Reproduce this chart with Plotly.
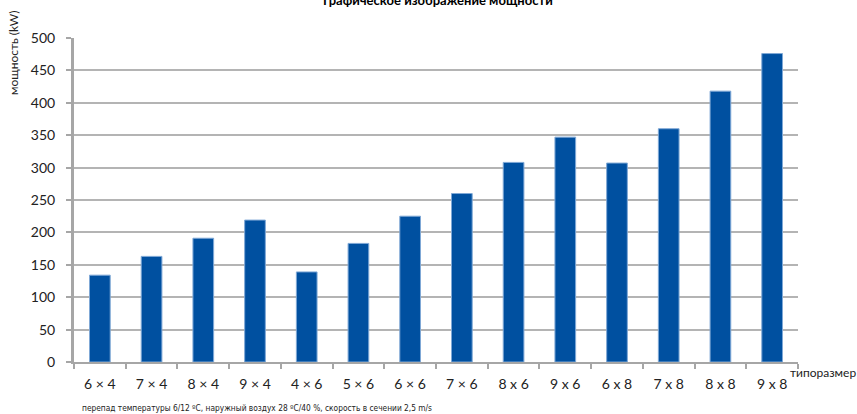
import plotly.graph_objects as go

categories = ["6 × 4", "7 × 4", "8 × 4", "9 × 4", "4 × 6", "5 × 6", "6 × 6", "7 × 6",
              "8 x 6", "9 x 6", "6 x 8", "7 x 8", "8 x 8", "9 x 8"]
power_kw = [134, 163, 191, 219, 139, 183, 225, 260, 308, 347, 307, 360, 418, 476]
y_ticks = [0, 50, 100, 150, 200, 250, 300, 350, 400, 450, 500]

title_text = "Графическое изображение мощности"
y_title = "мощность (kW)"
x_title = "типоразмер"
footnote = "перепад температуры 6/12 ºC, наружный воздух 28 ºC/40 %, скорость в сечении 2,5 m/s"

FONT = "Lato, 'Open Sans', sans-serif"

fig = go.Figure()
fig.add_trace(go.Bar(
    x=categories, y=power_kw,
    marker=dict(color="#0050A0", line=dict(color="#7FA8D6", width=1)),
    width=0.4,
))

fig.update_layout(
    width=857, height=414,
    margin=dict(l=74, r=59, t=38, b=52),
    paper_bgcolor="white", plot_bgcolor="white",
    showlegend=False,
    font=dict(family=FONT, color="#222", size=14),
    title=dict(text="<b>" + title_text + "</b>", x=0.511, xanchor="center",
               y=1.0, yanchor="middle", yref="container",
               font=dict(size=13, color="black", family=FONT)),
    bargap=0.6,
)

fig.update_yaxes(
    range=[0, 500], tickvals=y_ticks, showgrid=True,
    gridcolor="#B4B4B4", gridwidth=1.5,
    showline=True, linecolor="#A6A6A6", linewidth=3,
    ticks="outside", ticklen=5, tickcolor="#A6A6A6", tickwidth=2,
    ticklabelstandoff=8,
    tickfont=dict(size=14, color="#222"),
    zeroline=False,
)
fig.update_xaxes(
    showline=True, linecolor="#A6A6A6", linewidth=2,
    ticks="outside", tickson="boundaries", ticklen=5, tickcolor="#A6A6A6", tickwidth=2,
    tickfont=dict(size=14, color="#222"),
    ticklabelstandoff=8,
)

fig.add_annotation(text=y_title, xref="paper", yref="paper",
                   x=-74/724, xshift=13, y=1.0, yshift=-15, textangle=-90,
                   xanchor="center", yanchor="middle", showarrow=False,
                   font=dict(size=12, color="#222", family=FONT))
fig.add_annotation(text=x_title, xref="paper", yref="paper",
                   x=1.0, xshift=-10, y=0, yshift=-10, xanchor="left", yanchor="middle",
                   showarrow=False, font=dict(size=12, color="#222", family=FONT))
fig.add_annotation(text=footnote, xref="paper", yref="paper",
                   x=0, xshift=6, y=0, yshift=-46, xanchor="left", yanchor="middle",
                   showarrow=False,
                   font=dict(size=8.3, color="#222", family="'Liberation Sans Narrow', 'DejaVu Sans Condensed', sans-serif"))

fig.write_html("out.html", config={"displayModeBar": False},
               post_script="document.body.style.margin='0';document.body.style.padding='0';")
